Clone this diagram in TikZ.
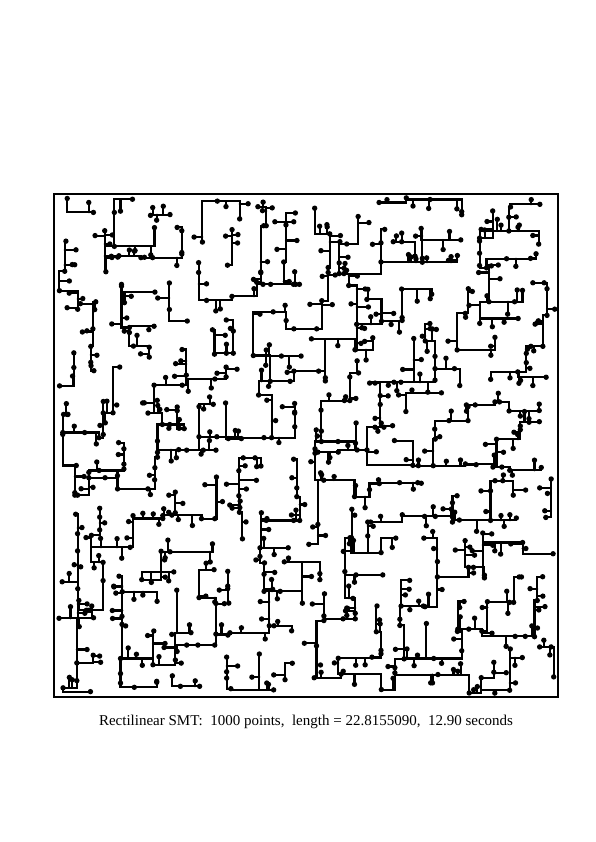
\documentclass[tikz,border=0pt]{standalone}
\usepackage{fontspec}
\setmainfont{Liberation Serif}
\begin{document}
\begin{tikzpicture}[x=1pt,y=1pt,
  seg/.style={line width=2.1pt,line cap=round},
  dot/.style={circle,fill=black,inner sep=0pt,minimum size=5.4pt},
  frame/.style={line width=1.5pt}]
\useasboundingbox (0,0) rectangle (595,842);
\draw[frame] (54,145) rectangle (558,648);
\begin{scope}[shift={(54pt,145pt)},x=28pt,y=27.94pt]
\pgfmathsetseed{2718}
% pass 1: terminal positions and parent directions
\foreach \i in {0,...,17}{\foreach \j in {0,...,17}{
  \pgfmathsetmacro\px{\i+0.5+0.8*(rnd-0.5)}
  \pgfmathsetmacro\py{\j+0.5+0.8*(rnd-0.5)}
  \expandafter\xdef\csname px-\i-\j\endcsname{\px}
  \expandafter\xdef\csname py-\i-\j\endcsname{\py}
  \coordinate (p-\i-\j) at (\px,\py);
  \pgfmathtruncatemacro\pdir{(\i==0 && \j==0) ? 0 : (rnd<((\i==0 || \j==0) ? 0.4 : 0.13) ? 0 : (\i==0 ? 2 : (\j==0 ? 1 : (rnd<0.5 ? 1 : 2))))}
  \expandafter\xdef\csname pd-\i-\j\endcsname{\pdir}
}}
% pass 2: draw
\foreach \i in {0,...,17}{\foreach \j in {0,...,17}{
  \edef\pdir{\csname pd-\i-\j\endcsname}
  \ifnum\pdir=0
    \pgfmathtruncatemacro\ri{\i+1}\pgfmathtruncatemacro\uj{\j+1}
    \def\kids{0}
    \ifcsname pd-\ri-\j\endcsname \ifnum\csname pd-\ri-\j\endcsname=1 \def\kids{1}\fi\fi
    \ifcsname pd-\i-\uj\endcsname \ifnum\csname pd-\i-\uj\endcsname=2 \def\kids{1}\fi\fi
    \ifnum\kids=0
      \ifnum\i=0 \ifnum\j>0 \def\pdir{2}\fi
      \else \ifnum\j=0 \def\pdir{1}\else \def\pdir{2}\fi\fi
    \fi
  \fi
  \ifnum\pdir>0
    \ifnum\pdir=1 \pgfmathtruncatemacro\qi{\i-1}\edef\qj{\j}\else\edef\qi{\i}\pgfmathtruncatemacro\qj{\j-1}\fi
    \edef\Ax{\csname px-\i-\j\endcsname}\edef\Ay{\csname py-\i-\j\endcsname}
    \edef\Bx{\csname px-\qi-\qj\endcsname}\edef\By{\csname py-\qi-\qj\endcsname}
    \pgfmathsetmacro\Lh{abs(\Bx-\Ax)}
    \pgfmathsetmacro\Lv{abs(\By-\Ay)}
    \pgfmathtruncatemacro\lshape{rnd<0.5 ? 1 : 0}
    \ifnum\lshape=1 \draw[seg] (p-\i-\j) -| (p-\qi-\qj); \else \draw[seg] (p-\i-\j) |- (p-\qi-\qj); \fi
    \foreach \k in {1,2,3}{
      \pgfmathtruncatemacro\hasx{rnd<0.7 ? 1 : 0}
      \ifnum\hasx=1
        \pgfmathsetmacro\upos{0.05+0.9*rnd}
        \pgfmathtruncatemacro\onh{rnd*(\Lh+\Lv)<\Lh ? 1 : 0}
        \pgfmathsetmacro\slen{rnd<0.25 ? 0 : (rnd<0.5 ? -1 : 1)*(0.1+0.35*rnd)}
        \ifnum\onh=1
          \pgfmathsetmacro\eX{\Ax+\upos*(\Bx-\Ax)}
          \pgfmathsetmacro\eY{\lshape==1 ? \Ay : \By}
          \pgfmathsetmacro\fY{\eY+\slen}
          \pgfmathsetmacro\fY{(\fY<0.08 || \fY>17.92) ? \eY-\slen : \fY}
          \let\fX\eX
        \else
          \pgfmathsetmacro\eY{\Ay+\upos*(\By-\Ay)}
          \pgfmathsetmacro\eX{\lshape==1 ? \Bx : \Ax}
          \pgfmathsetmacro\fX{\eX+\slen}
          \pgfmathsetmacro\fX{(\fX<0.08 || \fX>17.92) ? \eX-\slen : \fX}
          \let\fY\eY
        \fi
        \coordinate (e-\i-\j-\k) at (\eX,\eY);
        \coordinate (f-\i-\j-\k) at (\fX,\fY);
        \draw[seg] (e-\i-\j-\k) -- (f-\i-\j-\k);
        \node[dot] (g-\i-\j-\k) at (f-\i-\j-\k) {};
      \fi
    }
  \fi
  \node[dot] (d-\i-\j) at (p-\i-\j) {};
}}
\end{scope}
\node[font=\fontsize{15}{18}\selectfont] (cap) at (306,120) {Rectilinear SMT:\ \ 1000 points,\ \ length = 22.8155090,\ \ 12.90 seconds};
\end{tikzpicture}
\end{document}
